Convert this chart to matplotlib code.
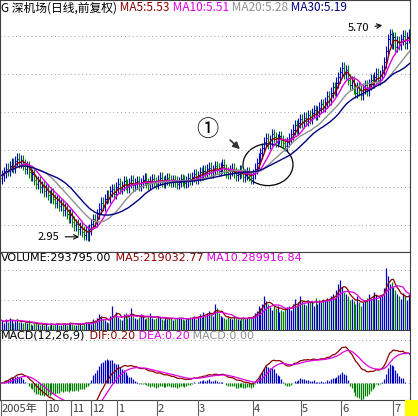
import numpy as np
import pandas as pd
import matplotlib
matplotlib.use("Agg")
import matplotlib.pyplot as plt
from matplotlib.patches import Ellipse

plt.rcParams['font.family'] = ['Noto Sans CJK SC', 'DejaVu Sans']

closes = [
3.76,3.80,3.85,3.82,3.88,3.92,3.86,3.95,3.98,3.93,
3.96,3.90,3.85,3.88,3.80,3.75,3.78,3.70,3.65,3.68,
3.60,3.62,3.55,3.58,3.50,3.47,3.52,3.45,3.40,3.43,
3.36,3.38,3.30,3.33,3.25,3.20,3.24,3.15,3.10,3.12,
3.05,3.08,3.02,2.98,3.03,2.97,3.05,3.12,3.18,3.15,
3.25,3.32,3.40,3.36,3.45,3.50,3.47,3.55,3.58,3.52,
3.60,3.65,3.58,3.62,3.68,3.64,3.60,3.66,3.70,3.63,
3.65,3.68,3.62,3.66,3.70,3.72,3.66,3.64,3.68,3.71,
3.67,3.65,3.70,3.73,3.68,3.66,3.70,3.72,3.69,3.67,
3.70,3.68,3.65,3.67,3.71,3.69,3.66,3.68,3.72,3.70,
3.74,3.78,3.72,3.75,3.80,3.77,3.82,3.79,3.84,3.86,
3.80,3.83,3.88,3.85,3.82,3.86,3.90,3.84,3.80,3.78,
3.82,3.85,3.80,3.76,3.78,3.82,3.79,3.74,3.77,3.80,
3.75,3.72,3.78,3.85,3.92,3.98,4.05,4.12,4.20,4.25,
4.18,4.22,4.30,4.26,4.20,4.24,4.28,4.22,4.18,4.15,
4.20,4.25,4.30,4.36,4.42,4.38,4.45,4.50,4.46,4.52,
4.48,4.55,4.50,4.58,4.62,4.56,4.60,4.65,4.70,4.66,
4.72,4.80,4.76,4.85,4.92,4.88,4.98,5.05,5.12,5.18,
5.10,5.15,5.02,4.95,5.00,4.90,4.85,4.92,4.88,4.82,
4.90,4.95,4.88,4.96,5.02,4.98,5.05,5.10,5.02,5.08,
5.15,5.25,5.40,5.55,5.62,5.50,5.58,5.45,5.52,5.48,
5.55,5.60,5.50,5.58,5.62,5.53]
first_open = 3.72
volumes_k = [
80,60,90,70,100,85,60,75,90,70,
65,55,70,60,80,50,45,60,55,50,
40,50,45,60,35,40,55,45,50,60,
45,40,50,55,40,60,70,50,45,40,
55,50,45,60,70,65,55,50,90,80,
100,130,120,90,80,70,60,120,200,110,
150,110,90,80,130,140,100,110,180,120,
100,90,110,130,120,90,100,110,140,100,
90,100,120,110,90,80,100,90,110,100,
80,90,100,110,100,90,80,90,100,110,
100,120,90,110,130,110,150,120,140,160,
130,120,220,180,140,120,110,100,90,120,
100,90,110,100,90,80,100,110,90,100,
110,100,120,140,160,200,180,220,280,240,
220,190,170,210,180,200,150,170,160,180,
190,200,170,220,260,210,230,280,240,220,
210,250,230,240,200,270,220,250,230,260,
240,270,250,280,300,270,330,380,420,360,
320,300,280,250,260,240,220,280,230,200,
230,250,270,300,260,280,320,290,250,280,
300,350,520,450,380,400,360,330,300,280,
260,310,280,250,300,294]
month_labels = ["2005年", "10", "11", "12", "1", "2", "3", "4", "5", "6", "7"]
month_px = [0, 45, 70, 90, 116, 156, 197, 252, 300, 340, 392]
title_items = [("G 深机场(日线,前复权)", "black"), (" MA5:5.53", "#8b0000"),
               (" MA10:5.51", "#e000e0"), (" MA20:5.28", "#909090"), (" MA30:5.19", "#000080")]

c = pd.Series(closes)
o = pd.Series([first_open] + closes[:-1])
hi = np.maximum(o, c) + 0.07
lo = np.minimum(o, c) - 0.07
n = len(c)
x = np.arange(n)
up = (c >= o).values
W, H = 418, 416
PX = 1.9
def bx(px): return (px - 2) / PX
xl = (bx(0), bx(410))

fig = plt.figure(figsize=(W/100, H/100), dpi=100)
def ax_at(top, bot):
    return fig.add_axes([0, 1 - bot/H, 410/W, (bot-top)/H])

grid_kw = dict(color='#a0a0a0', ls=(0, (1, 3)), lw=0.7)

# price
ax = ax_at(0, 252)
ax.set_xlim(*xl); ax.set_ylim(2.75, 6.07)
for g in [3.1, 3.6, 4.1, 4.6, 5.1, 5.6]:
    ax.axhline(g, **grid_kw)
cols = np.where(up, '#0000c0', '#008000')
ax.vlines(x, lo, hi, colors=cols, lw=0.8)
ax.hlines(o, x-0.6, x, colors=cols, lw=0.8)
ax.hlines(c, x, x+0.6, colors=cols, lw=0.8)
for w, col in [(5, '#8b0000'), (10, '#e000e0'), (20, '#909090'), (30, '#000080')]:
    ax.plot(x, c.rolling(w, min_periods=1).mean(), color=col, lw=1.0)
tx = 0.003
for t, col in title_items:
    tt = ax.text(tx, 0.995, t, transform=ax.transAxes, color=col, fontsize=8.5, va='top')
    fig.canvas.draw()
    tx = tt.get_window_extent().x1 / 410
ax.annotate("5.70", xy=(bx(385), 5.74), xytext=(bx(348), 5.70), fontsize=8, va='center',
            arrowprops=dict(arrowstyle='->', lw=0.8))
ax.annotate("2.95", xy=(bx(82), 2.95), xytext=(bx(38), 2.95), fontsize=8, va='center',
            arrowprops=dict(arrowstyle='->', lw=0.8))
ax.text(bx(207), 4.37, "①", fontsize=16, ha='center', va='center',
        family=['Noto Sans CJK SC', 'DejaVu Sans'])
ax.annotate("", xy=(bx(242), 4.08), xytext=(bx(228), 4.25),
            arrowprops=dict(arrowstyle='-|>', lw=1.2, color='#333333'))
ax.add_patch(Ellipse((bx(268), 3.90), 50/PX, 0.55, fill=False, lw=0.9, color='black'))
ax.set_xticks([]); ax.set_yticks([])

# volume
av = ax_at(252, 330)
vol = pd.Series(volumes_k) * 1000
av.set_xlim(*xl); av.set_ylim(0, 650000)
for g in [250000, 500000]:
    av.axhline(g, **grid_kw)
av.vlines(x, 0, vol, colors=cols, lw=0.9)
av.plot(x, vol.rolling(5, min_periods=1).mean(), color='#8b0000', lw=0.9)
av.plot(x, vol.rolling(10, min_periods=1).mean(), color='#e000e0', lw=0.9)
tx = 0.003
for t, col in [("VOLUME:293795.00", "black"), (" MA5:219032.77", "#8b0000"), (" MA10.289916.84", "#e000e0")]:
    tt = av.text(tx, 0.99, t, transform=av.transAxes, color=col, fontsize=8, va='top', family='DejaVu Sans')
    fig.canvas.draw()
    tx = tt.get_window_extent().x1 / 410
av.set_xticks([]); av.set_yticks([])

# macd
am = ax_at(330, 400)
dif = c.ewm(span=12, adjust=False).mean() - c.ewm(span=26, adjust=False).mean()
dea = dif.ewm(span=9, adjust=False).mean()
hist = 2 * (dif - dea)
m = dif.max()
am.set_xlim(*xl); am.set_ylim(-17/36*m, 53/36*m)
am.axhline(0, **grid_kw)
am.axhline(m*1.2, **grid_kw)
am.vlines(x, 0, hist, colors=np.where(hist >= 0, '#0000c0', '#008000'), lw=0.9)
am.plot(x, dif, color='#8b0000', lw=0.9)
am.plot(x, dea, color='#e000e0', lw=0.9)
tx = 0.003
for t, col in [("MACD(12,26,9)", "black"), (" DIF:0.20", "#8b0000"), (" DEA:0.20", "#e000e0"), (" MACD:0.00", "#909090")]:
    tt = am.text(tx, 0.99, t, transform=am.transAxes, color=col, fontsize=8, va='top', family='DejaVu Sans')
    fig.canvas.draw()
    tx = tt.get_window_extent().x1 / 410
am.set_xticks([]); am.set_yticks([])

# date axis
ad = fig.add_axes([0, 0, 1, 16/H])
ad.set_xlim(0, W); ad.set_ylim(0, 1)
ad.axis('off')
for lab, px in zip(month_labels, month_px):
    ad.axvline(px + 0.5, color='#606060', lw=0.8)
    ad.text(px + 2, 0.45, lab, fontsize=8, color='#404040', va='center')
ad.add_patch(plt.Rectangle((405, 0), 13, 1, color='#ffff00'))
for a in (ax, av, am):
    for s in a.spines.values():
        s.set_color('#404040'); s.set_linewidth(0.8)
fig.savefig("out.png", dpi=100)
